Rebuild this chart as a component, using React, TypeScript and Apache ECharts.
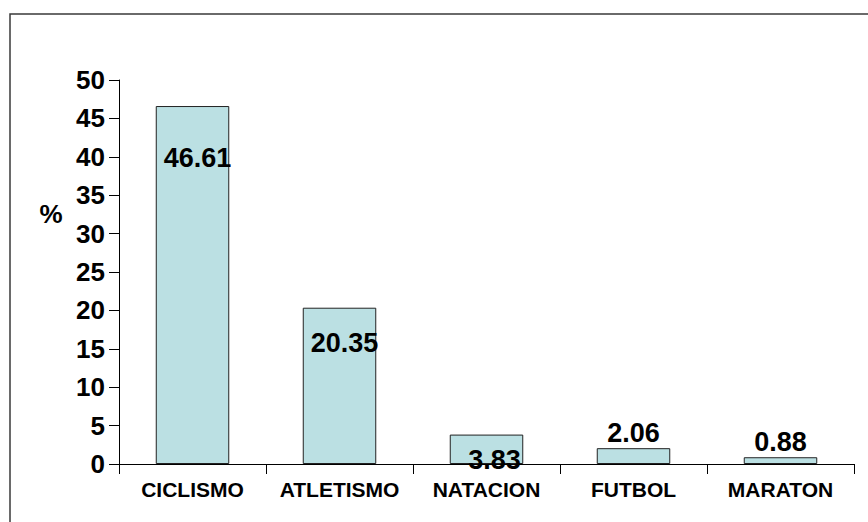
import React, { useEffect, useRef } from "react";
import * as echarts from "echarts";

const categories = ["CICLISMO", "ATLETISMO", "NATACION", "FUTBOL", "MARATON"];
const values = [46.61, 20.35, 3.83, 2.06, 0.88];
const yTicks = { min: 0, max: 50, interval: 5 };
const yAxisName = "%";

// label placement styles (not data)
const labelStyles: any[] = [
  { position: "insideTop", distance: 38, offset: [5, 0] },
  { position: "insideTop", distance: 22, offset: [5, 0] },
  { position: "insideTop", distance: 12, offset: [8, 0] },
  { position: "top", distance: 2, offset: [0, 0] },
  { position: "top", distance: 2, offset: [0, 0] },
];

const FONT = "'Liberation Sans', Arial, sans-serif";

export default function App() {
  const ref = useRef<HTMLDivElement>(null);
  useEffect(() => {
    if (!ref.current) return;
    const chart = echarts.init(ref.current, undefined, { renderer: "svg" });
    chart.setOption({
      animation: false,
      backgroundColor: "#ffffff",
      textStyle: { fontFamily: FONT },
      graphic: [
        {
          type: "rect",
          shape: { x: 10, y: 14, width: 900, height: 600 },
          style: { fill: "none", stroke: "#3a3a3a", lineWidth: 1.5 },
          silent: true,
        },
        {
          type: "text",
          x: 51,
          y: 214,
          style: {
            text: yAxisName,
            font: `bold 26px ${FONT}`,
            fill: "#000",
            textAlign: "center",
            textVerticalAlign: "middle",
          },
        },
      ],
      grid: { left: 119, right: 14, top: 80, bottom: 58, containLabel: false },
      xAxis: {
        type: "category",
        data: categories,
        axisLine: { show: true, lineStyle: { color: "#000", width: 1 } },
        axisTick: { show: true, length: 10, lineStyle: { color: "#000" } },
        axisLabel: {
          interval: 0,
          margin: 15,
          color: "#000",
          fontWeight: "bold",
          fontSize: 21,
          fontFamily: FONT,
        },
        splitLine: { show: false },
      },
      yAxis: {
        type: "value",
        min: yTicks.min,
        max: yTicks.max,
        interval: yTicks.interval,
        axisLine: { show: true, lineStyle: { color: "#000", width: 1 } },
        axisTick: { show: true, length: 10, lineStyle: { color: "#000" } },
        axisLabel: {
          margin: 14,
          color: "#000",
          fontWeight: "bold",
          fontSize: 26,
          fontFamily: FONT,
        },
        splitLine: { show: false },
      },
      series: [
        {
          type: "bar",
          barWidth: "50%",
          data: values.map((v, i) => ({
            value: v,
            label: { ...labelStyles[i] },
          })),
          itemStyle: { color: "#BBE0E3", borderColor: "#222", borderWidth: 1 },
          label: {
            show: true,
            color: "#000",
            fontWeight: "bold",
            fontSize: 27,
            fontFamily: FONT,
            formatter: (p: any) => p.value.toFixed(2),
          },
        },
      ],
    });
    return () => chart.dispose();
  }, []);
  return (
    <div
      ref={ref}
      style={{ position: "fixed", left: 0, top: 0, width: 868, height: 522 }}
    />
  );
}
